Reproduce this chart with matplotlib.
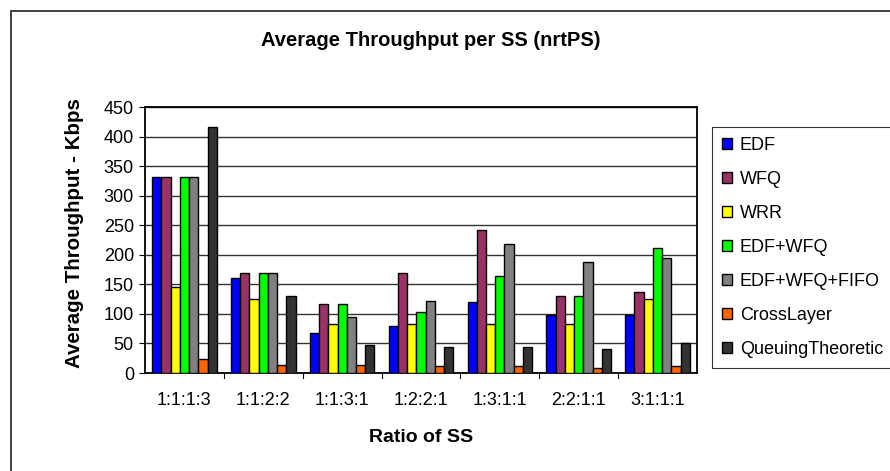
import matplotlib.pyplot as plt
from matplotlib.patches import Rectangle
import numpy as np

plt.rcParams["font.family"] = ["Liberation Sans", "DejaVu Sans"]

# data
ratios = ["1:1:1:3", "1:1:2:2", "1:1:3:1", "1:2:2:1", "1:3:1:1", "2:2:1:1", "3:1:1:1"]
edf = [332, 161, 68, 80, 120, 98, 98]
wfq = [332, 170, 116, 170, 242, 131, 137]
wrr = [146, 125, 83, 83, 83, 83, 125]
edf_wfq = [332, 170, 116, 104, 164, 131, 212]
edf_wfq_fifo = [332, 170, 95, 122, 218, 188, 194]
cross_layer = [23, 14, 14, 11, 11, 8, 11]
queuing = [416, 131, 47, 44, 44, 41, 50]

series = [edf, wfq, wrr, edf_wfq, edf_wfq_fifo, cross_layer, queuing]
names = ["EDF", "WFQ", "WRR", "EDF+WFQ", "EDF+WFQ+FIFO", "CrossLayer", "QueuingTheoretic"]
colors = ["#0000FF", "#993366", "#FFFF00", "#00FF00", "#808080", "#FF6600", "#333333"]

W, H = 890, 471
fig = plt.figure(figsize=(W / 100, H / 100), dpi=100)
ax = fig.add_axes([145 / W, 1 - 373 / H, 552 / W, 266 / H])

# outer chart border (runs off the right and bottom edges)
fig.patches.append(Rectangle((11 / W, -10 / H), 900 / W, (H - 1) / H, transform=fig.transFigure,
                             fill=False, edgecolor="#222222", linewidth=1.2))

x = np.arange(len(ratios))
n = len(series)
w = 0.82 / n
for i, (vals, name, c) in enumerate(zip(series, names, colors)):
    ax.bar(x - 0.41 + w * (i + 0.5), vals, width=w, color=c, edgecolor="black",
           linewidth=1.0, label=name, zorder=3)

ax.set_xlim(-0.5, len(ratios) - 0.5)
ax.set_ylim(0, 450)
ax.set_yticks(np.arange(0, 451, 50))
ax.set_xticks(x)
ax.set_xticklabels(ratios, fontsize=13)
ax.tick_params(axis="y", labelsize=13, direction="out", length=4, pad=4)
ax.tick_params(axis="x", length=0, pad=14)
for b in np.arange(0.5, len(ratios) - 0.5, 1):
    ax.axvline(b, ymin=-0.02, ymax=0, color="black", linewidth=0.8, clip_on=False)
ax.grid(axis="y", color="#333333", linewidth=1.0, zorder=0)
for s in ax.spines.values():
    s.set_linewidth(1.3)

fig.text(75 / W, 1 - 233 / H, "Average Throughput - Kbps", fontsize=14.8, fontweight="bold",
         rotation=90, ha="center", va="center")
fig.text(421 / W, 1 - 438 / H, "Ratio of SS", fontsize=14, fontweight="bold",
         ha="center", va="center")
fig.text(431 / W, 1 - 46 / H, "Average Throughput per SS (nrtPS)", fontsize=14.5,
         fontweight="bold", ha="center", va="baseline")

leg = ax.legend(loc="upper left", bbox_to_anchor=(712 / W, 1 - 127 / H), bbox_transform=fig.transFigure,
                fontsize=13, frameon=True, fancybox=False, edgecolor="black",
                handlelength=0.55, handleheight=0.55, labelspacing=0.94, borderpad=0.55,
                handletextpad=0.45, borderaxespad=0)
leg.get_frame().set_linewidth(0.8)

fig.savefig("out.png", dpi=100, facecolor="white")
